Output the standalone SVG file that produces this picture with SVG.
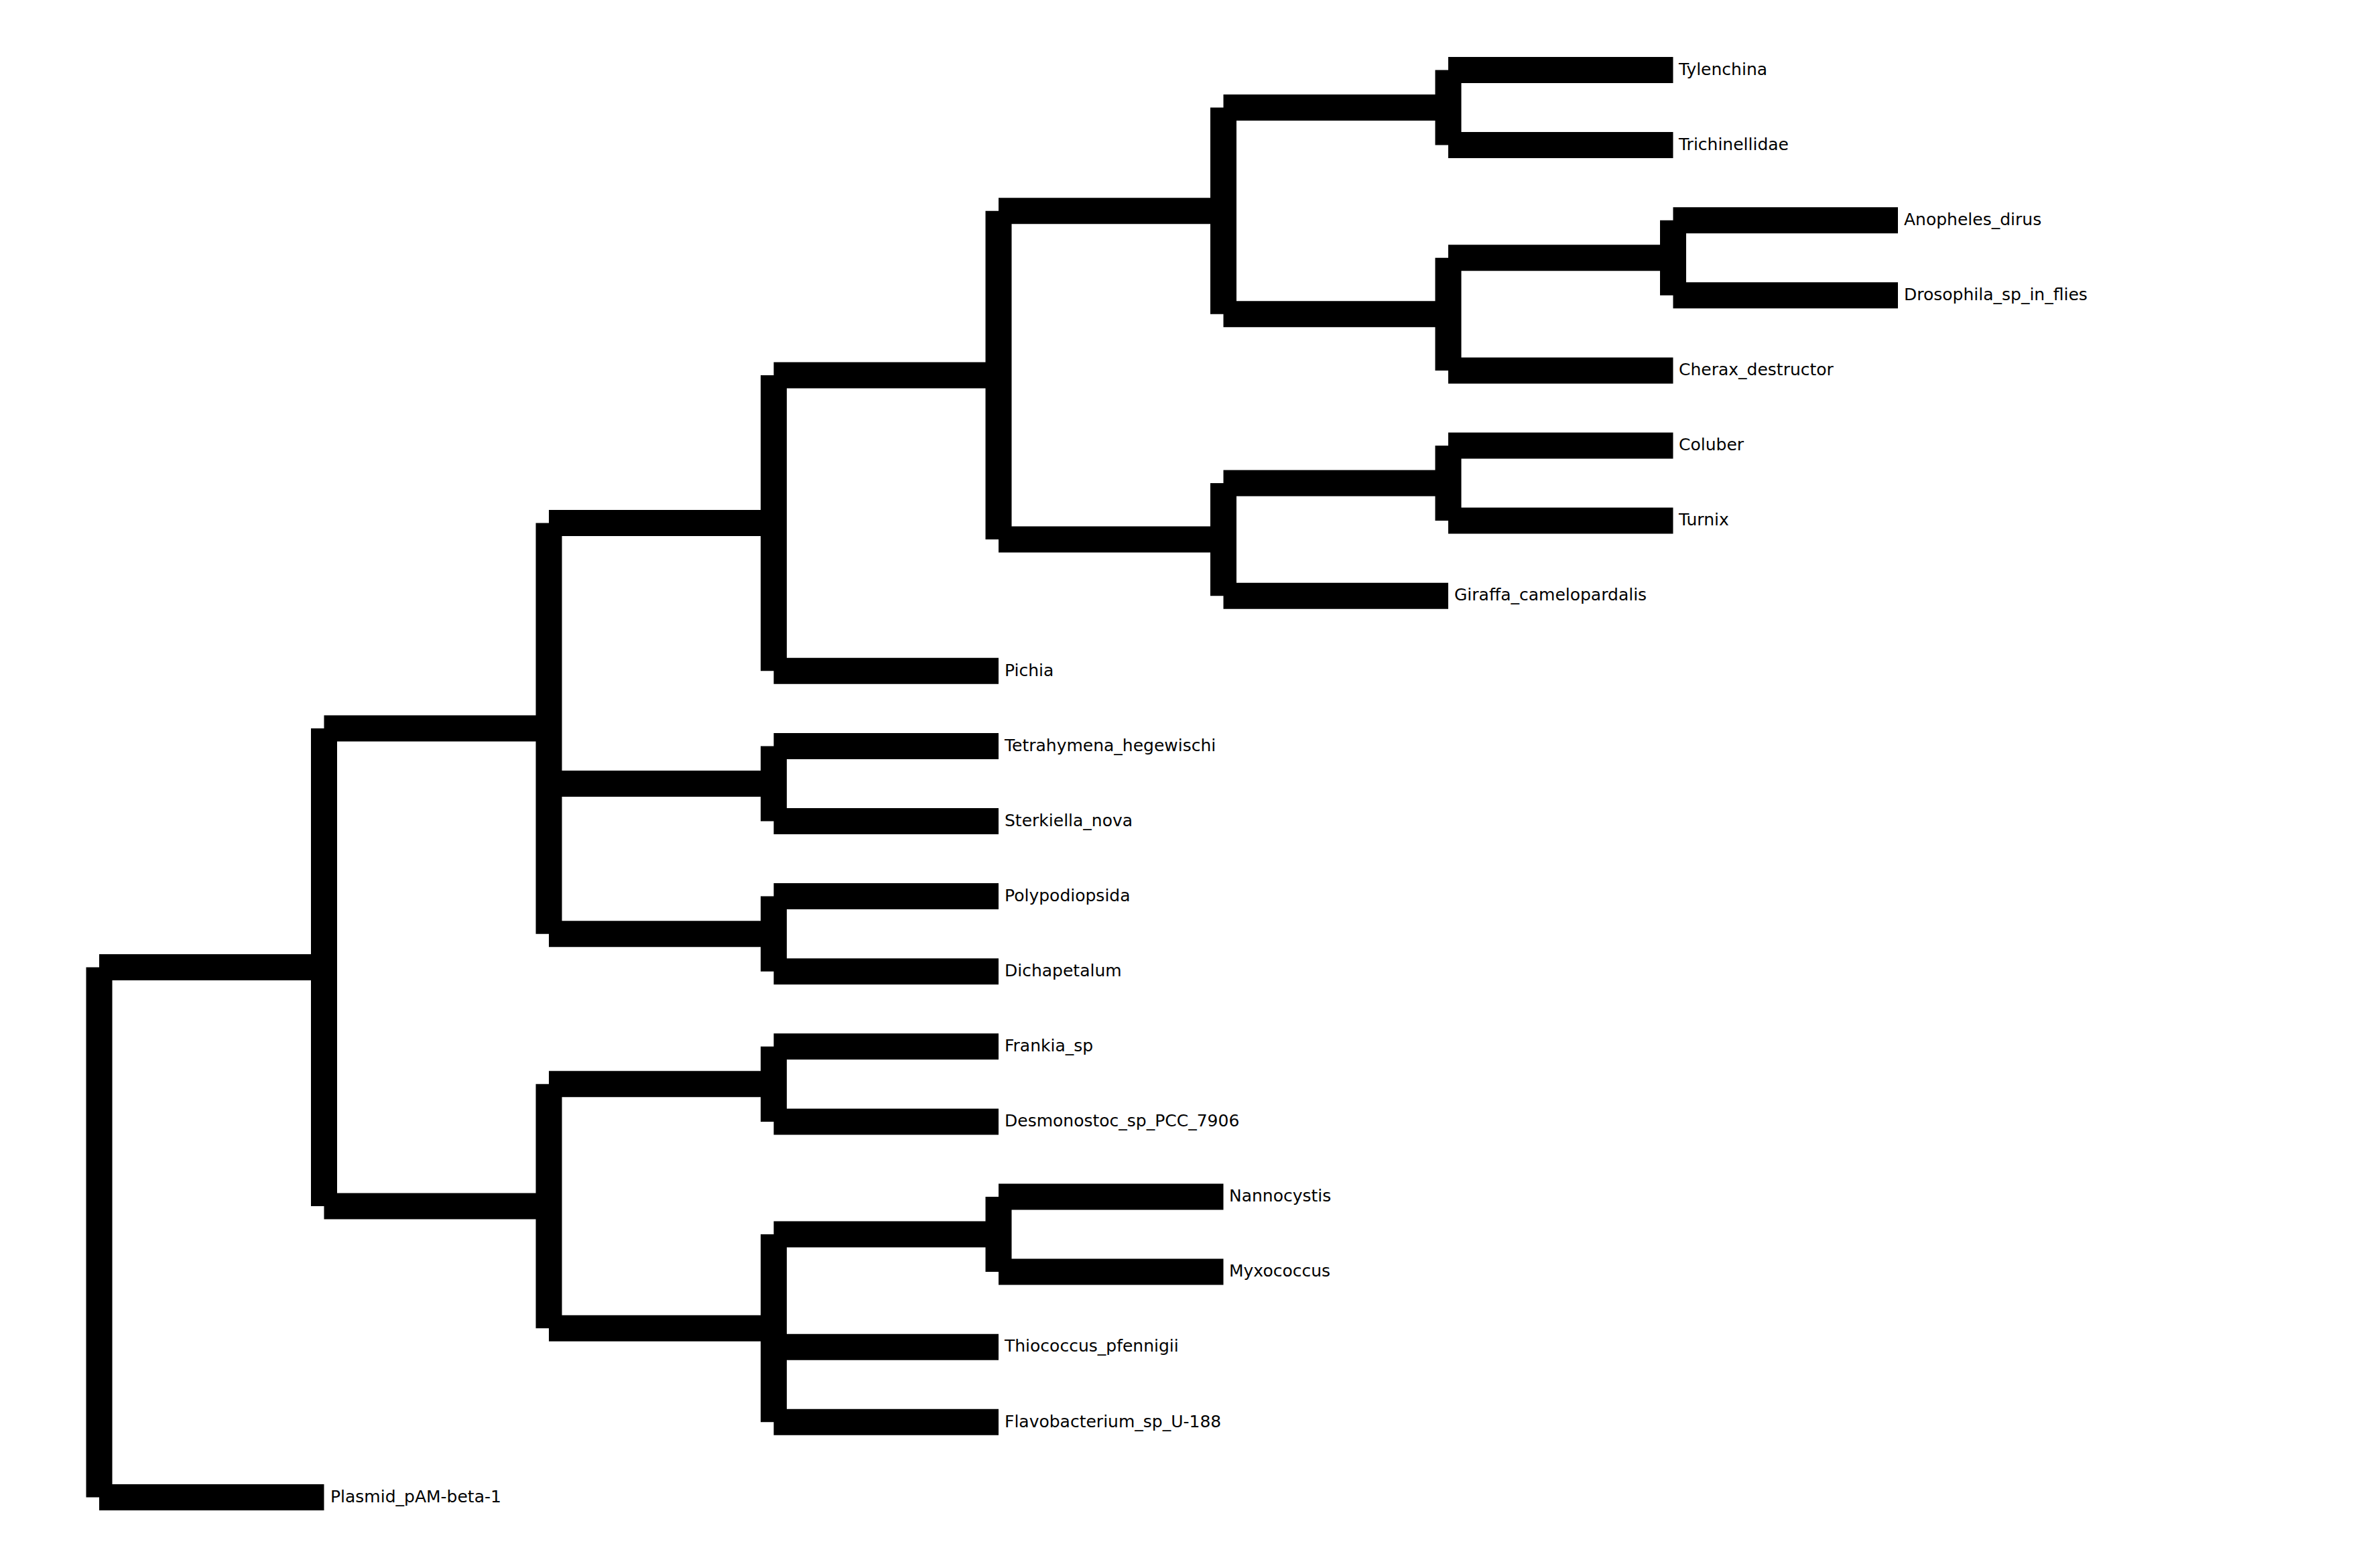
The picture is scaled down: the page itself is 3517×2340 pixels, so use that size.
<svg xmlns="http://www.w3.org/2000/svg" width="3517" height="2340" viewBox="0 0 3517 2340">
  <style>
    .br { stroke: #000; stroke-width: 39; stroke-linecap: butt; fill: none; }
    .lbl { font-family: "DejaVu Sans", "Liberation Sans", sans-serif; font-size: 25px; fill: #000; }
  </style>
  <rect x="0" y="0" width="3517" height="2340" fill="#fff"/>

  <!-- tree branches: horizontal = branch length, vertical = clade span -->
  <g id="connectors" class="br">
    <!-- vertical clade bars -->
    <line x1="148" y1="1443.55" x2="148" y2="2234.4"/>
    <line x1="483.5" y1="1087.1" x2="483.5" y2="1800"/>
    <line x1="819" y1="780.6" x2="819" y2="1393.65"/>
    <line x1="819" y1="1617.85" x2="819" y2="1982.2"/>
    <line x1="1154.5" y1="559.9" x2="1154.5" y2="1001.3"/>
    <line x1="1154.5" y1="1113.4" x2="1154.5" y2="1225.5"/>
    <line x1="1154.5" y1="1337.6" x2="1154.5" y2="1449.7"/>
    <line x1="1154.5" y1="1561.8" x2="1154.5" y2="1673.9"/>
    <line x1="1154.5" y1="1842.05" x2="1154.5" y2="2122.3"/>
    <line x1="1490" y1="314.7" x2="1490" y2="805.1"/>
    <line x1="1490" y1="1786" x2="1490" y2="1898.1"/>
    <line x1="1825.5" y1="160.55" x2="1825.5" y2="468.8"/>
    <line x1="1825.5" y1="721.05" x2="1825.5" y2="889.2"/>
    <line x1="2161" y1="104.5" x2="2161" y2="216.6"/>
    <line x1="2161" y1="384.75" x2="2161" y2="552.9"/>
    <line x1="2161" y1="665" x2="2161" y2="777.1"/>
    <line x1="2496.5" y1="328.7" x2="2496.5" y2="440.8"/>

    <!-- horizontal branches to internal clades -->
    <line x1="148" y1="1443.55" x2="483.5" y2="1443.55"/>
    <line x1="483.5" y1="1087.1" x2="819" y2="1087.1"/>
    <line x1="483.5" y1="1800" x2="819" y2="1800"/>
    <line x1="819" y1="780.6" x2="1154.5" y2="780.6"/>
    <line x1="819" y1="1169.45" x2="1154.5" y2="1169.45"/>
    <line x1="819" y1="1393.65" x2="1154.5" y2="1393.65"/>
    <line x1="819" y1="1617.85" x2="1154.5" y2="1617.85"/>
    <line x1="819" y1="1982.2" x2="1154.5" y2="1982.2"/>
    <line x1="1154.5" y1="559.9" x2="1490" y2="559.9"/>
    <line x1="1154.5" y1="1842.05" x2="1490" y2="1842.05"/>
    <line x1="1490" y1="314.7" x2="1825.5" y2="314.7"/>
    <line x1="1490" y1="805.1" x2="1825.5" y2="805.1"/>
    <line x1="1825.5" y1="160.55" x2="2161" y2="160.55"/>
    <line x1="1825.5" y1="468.8" x2="2161" y2="468.8"/>
    <line x1="1825.5" y1="721.05" x2="2161" y2="721.05"/>
    <line x1="2161" y1="384.75" x2="2496.5" y2="384.75"/>

    <!-- terminal branches -->
    <line x1="2161" y1="104.5" x2="2496.5" y2="104.5"/>
    <line x1="2161" y1="216.6" x2="2496.5" y2="216.6"/>
    <line x1="2496.5" y1="328.7" x2="2832" y2="328.7"/>
    <line x1="2496.5" y1="440.8" x2="2832" y2="440.8"/>
    <line x1="2161" y1="552.9" x2="2496.5" y2="552.9"/>
    <line x1="2161" y1="665" x2="2496.5" y2="665"/>
    <line x1="2161" y1="777.1" x2="2496.5" y2="777.1"/>
    <line x1="1825.5" y1="889.2" x2="2161" y2="889.2"/>
    <line x1="1154.5" y1="1001.3" x2="1490" y2="1001.3"/>
    <line x1="1154.5" y1="1113.4" x2="1490" y2="1113.4"/>
    <line x1="1154.5" y1="1225.5" x2="1490" y2="1225.5"/>
    <line x1="1154.5" y1="1337.6" x2="1490" y2="1337.6"/>
    <line x1="1154.5" y1="1449.7" x2="1490" y2="1449.7"/>
    <line x1="1154.5" y1="1561.8" x2="1490" y2="1561.8"/>
    <line x1="1154.5" y1="1673.9" x2="1490" y2="1673.9"/>
    <line x1="1490" y1="1786" x2="1825.5" y2="1786"/>
    <line x1="1490" y1="1898.1" x2="1825.5" y2="1898.1"/>
    <line x1="1154.5" y1="2010.2" x2="1490" y2="2010.2"/>
    <line x1="1154.5" y1="2122.3" x2="1490" y2="2122.3"/>
    <line x1="148" y1="2234.4" x2="483.5" y2="2234.4"/>
  </g>

  <!-- leaf labels -->
  <g id="Tylenchina"><text class="lbl" x="2505" y="112">Tylenchina</text></g>
  <g id="Trichinellidae"><text class="lbl" x="2505" y="224">Trichinellidae</text></g>
  <g id="Anopheles_dirus"><text class="lbl" x="2841" y="336">Anopheles_dirus</text></g>
  <g id="Drosophila_sp_in_flies"><text class="lbl" x="2841" y="448">Drosophila_sp_in_flies</text></g>
  <g id="Cherax_destructor"><text class="lbl" x="2505" y="560">Cherax_destructor</text></g>
  <g id="Coluber"><text class="lbl" x="2505" y="672">Coluber</text></g>
  <g id="Turnix"><text class="lbl" x="2505" y="784">Turnix</text></g>
  <g id="Giraffa_camelopardalis"><text class="lbl" x="2170" y="896">Giraffa_camelopardalis</text></g>
  <g id="Pichia"><text class="lbl" x="1499" y="1008.5">Pichia</text></g>
  <g id="Tetrahymena_hegewischi"><text class="lbl" x="1499" y="1120.5">Tetrahymena_hegewischi</text></g>
  <g id="Sterkiella_nova"><text class="lbl" x="1499" y="1232.5">Sterkiella_nova</text></g>
  <g id="Polypodiopsida"><text class="lbl" x="1499" y="1344.5">Polypodiopsida</text></g>
  <g id="Dichapetalum"><text class="lbl" x="1499" y="1456.5">Dichapetalum</text></g>
  <g id="Frankia_sp"><text class="lbl" x="1499" y="1569">Frankia_sp</text></g>
  <g id="Desmonostoc_sp_PCC_7906"><text class="lbl" x="1499" y="1681">Desmonostoc_sp_PCC_7906</text></g>
  <g id="Nannocystis"><text class="lbl" x="1834" y="1793">Nannocystis</text></g>
  <g id="Myxococcus"><text class="lbl" x="1834" y="1905">Myxococcus</text></g>
  <g id="Thiococcus_pfennigii"><text class="lbl" x="1499" y="2017">Thiococcus_pfennigii</text></g>
  <g id="Flavobacterium_sp_U-188"><text class="lbl" x="1499" y="2129.5">Flavobacterium_sp_U-188</text></g>
  <g id="Plasmid_pAM-beta-1"><text class="lbl" x="493" y="2242">Plasmid_pAM-beta-1</text></g>
</svg>
